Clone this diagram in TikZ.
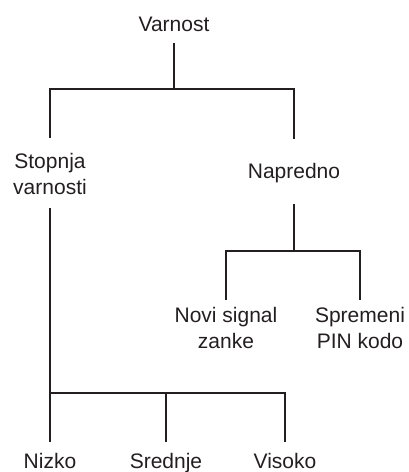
\documentclass[tikz,border=0pt]{standalone}
\usepackage{fontspec}
\setmainfont{Liberation Sans}
\usepackage{tikz}
\definecolor{ink}{HTML}{231F20}

\begin{document}
\begin{tikzpicture}[
  x=1pt, y=-1pt,
  font=\fontsize{21}{26.5}\selectfont,
  lbl/.style={anchor=north, inner sep=0pt, align=center, text=ink},
  link/.style={draw=ink, line width=2.8pt}
]
\useasboundingbox (0,0) rectangle (408,472);
% Level 0: root
\node[lbl] (varnost)  at (174,17)  {Varnost};

% Level 1: main options
\node[lbl] (stopnja)  at (50,153)  {Stopnja\\varnosti};
\node[lbl] (napredno) at (294,163) {Napredno};

% Level 2: advanced options
\node[lbl] (novi)     at (226,307) {Novi signal\\zanke};
\node[lbl] (spremeni) at (360,307) {Spremeni\\PIN kodo};

% Level 2: security levels
\node[lbl] (nizko)    at (50,453)  {Nizko};
\node[lbl] (srednje)  at (166,453) {Srednje};
\node[lbl] (visoko)   at (285,453) {Visoko};

% junctions
\coordinate (j1) at (174,89);
\coordinate (j2) at (294,251);
\coordinate (j3) at (50,393);

\draw[link, shorten <=11pt] (varnost.south) -- (j1);
\draw[link, shorten <=15pt, shorten >=24pt] (stopnja.north) |- (j1) -| (napredno.north);

\draw[link, shorten <=21pt] (napredno.south) -- (j2);
\draw[link, shorten <=7pt, shorten >=7pt] (novi.north) |- (j2) -| (spremeni.north);

\draw[link, shorten <=13pt, shorten >=11pt] (stopnja.south) -- (nizko.north);
\draw[link, shorten >=11pt] (j3) -| (srednje.north);
\draw[link, shorten >=11pt] (j3) -| (visoko.north);
\end{tikzpicture}
\end{document}
